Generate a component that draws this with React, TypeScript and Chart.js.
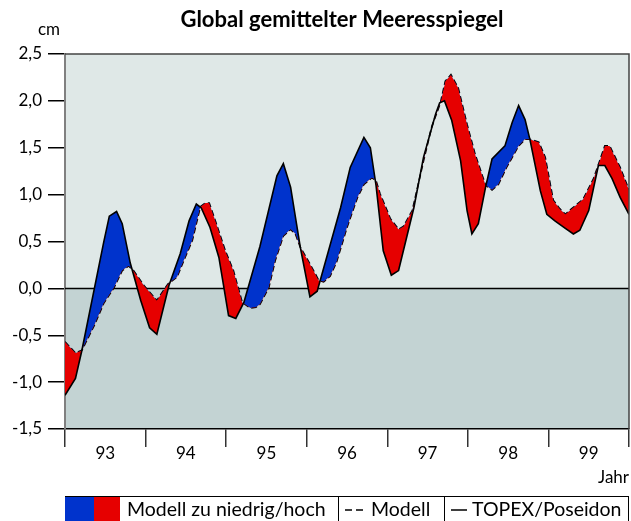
import { useEffect, useRef } from 'react';
import { Chart, registerables } from 'chart.js';

Chart.register(...registerables);

// ---- data ----
const topexYear = [1993.00, 1993.13, 1993.21, 1993.48, 1993.55, 1993.64, 1993.71, 1993.81, 1993.94, 1994.05,
  1994.14, 1994.29, 1994.43, 1994.54, 1994.63, 1994.69, 1994.80, 1994.91, 1995.03, 1995.12,
  1995.22, 1995.42, 1995.63, 1995.71, 1995.80, 1995.92, 1996.04, 1996.13, 1996.42, 1996.54,
  1996.71, 1996.79, 1996.86, 1996.95, 1997.05, 1997.14, 1997.33, 1997.45, 1997.60, 1997.65,
  1997.71, 1997.80, 1997.91, 1997.99, 1998.05, 1998.13, 1998.22, 1998.30, 1998.46, 1998.55,
  1998.63, 1998.71, 1998.77, 1998.90, 1998.98, 1999.08, 1999.21, 1999.31, 1999.39, 1999.50,
  1999.62, 1999.70, 1999.79, 1999.89, 2000.00];
const topexCm = [-1.14, -0.96, -0.66, 0.49, 0.77, 0.82, 0.69, 0.27, -0.13, -0.42,
  -0.49, 0.03, 0.37, 0.72, 0.90, 0.86, 0.65, 0.33, -0.29, -0.32,
  -0.15, 0.45, 1.20, 1.33, 1.08, 0.44, -0.09, -0.03, 0.86, 1.29,
  1.61, 1.50, 1.10, 0.40, 0.14, 0.19, 0.86, 1.40, 1.86, 1.98,
  2.00, 1.79, 1.36, 0.83, 0.58, 0.69, 1.08, 1.38, 1.52, 1.77,
  1.95, 1.80, 1.59, 1.04, 0.79, 0.72, 0.64, 0.58, 0.62, 0.83,
  1.31, 1.31, 1.17, 0.97, 0.79];

const modelYear = [1993.00, 1993.13, 1993.21, 1993.36, 1993.48, 1993.61, 1993.71, 1993.79, 1993.85, 1993.98,
  1994.14, 1994.28, 1994.39, 1994.49, 1994.58, 1994.68, 1994.74, 1994.79, 1994.87, 1994.99,
  1995.09, 1995.20, 1995.30, 1995.37, 1995.42, 1995.53, 1995.61, 1995.71, 1995.80, 1995.86,
  1995.92, 1996.04, 1996.15, 1996.21, 1996.29, 1996.37, 1996.50, 1996.63, 1996.71, 1996.81,
  1996.86, 1996.91, 1997.04, 1997.14, 1997.20, 1997.31, 1997.45, 1997.55, 1997.66, 1997.72,
  1997.79, 1997.88, 1997.99, 1998.09, 1998.22, 1998.30, 1998.38, 1998.48, 1998.63, 1998.71,
  1998.77, 1998.88, 1998.96, 1999.06, 1999.14, 1999.21, 1999.29, 1999.43, 1999.56, 1999.70,
  1999.76, 1999.89, 2000.00];
const modelCm = [-0.57, -0.69, -0.66, -0.40, -0.16, 0.01, 0.19, 0.24, 0.19, 0.03,
  -0.13, 0.05, 0.12, 0.33, 0.51, 0.87, 0.91, 0.91, 0.71, 0.40,
  0.19, -0.15, -0.21, -0.20, -0.17, 0.01, 0.30, 0.56, 0.63, 0.58,
  0.44, 0.26, 0.085, 0.07, 0.13, 0.28, 0.65, 0.97, 1.11, 1.18,
  1.15, 1.01, 0.74, 0.63, 0.66, 0.83, 1.36, 1.72, 1.98, 2.21,
  2.28, 2.14, 1.75, 1.43, 1.10, 1.05, 1.11, 1.29, 1.52, 1.59,
  1.59, 1.56, 1.40, 0.94, 0.85, 0.79, 0.85, 0.95, 1.17, 1.52,
  1.52, 1.29, 1.05];

const yearTicks = [1993, 1994, 1995, 1996, 1997, 1998, 1999, 2000];
const yearLabels = ['93', '94', '95', '96', '97', '98', '99'];

const TITLE = 'Global gemittelter Meeresspiegel';
const Y_UNIT = 'cm';
const X_UNIT = 'Jahr';
const LEGEND_FILL = 'Modell zu niedrig/hoch';
const LEGEND_MODEL = 'Modell';
const LEGEND_TOPEX = 'TOPEX/Poseidon';

const BLUE = '#0033cc';
const RED = '#e60000';
const UPPER_BG = '#dfe8e7';
const LOWER_BG = '#c3d3d3';
const FONT = 'Lato, "Open Sans", sans-serif';

const decoPlugin = {
  id: 'deco',
  beforeDraw(chart: any) {
    const { ctx, chartArea: a, scales } = chart;
    const y0 = scales.y.getPixelForValue(0);
    ctx.save();
    ctx.fillStyle = UPPER_BG;
    ctx.fillRect(a.left, a.top, a.right - a.left, y0 - a.top);
    ctx.fillStyle = LOWER_BG;
    ctx.fillRect(a.left, y0, a.right - a.left, a.bottom - y0);
    ctx.restore();
  },
  beforeDatasetsDraw(chart: any) {
    const { ctx, chartArea: a, scales } = chart;
    const y0 = Math.round(scales.y.getPixelForValue(0)) + 0.5;
    ctx.save();
    ctx.strokeStyle = '#000';
    ctx.lineWidth = 1.5;
    ctx.beginPath();
    ctx.moveTo(a.left, y0);
    ctx.lineTo(a.right, y0);
    ctx.stroke();
    ctx.restore();
  },
  afterDraw(chart: any) {
    const { ctx, chartArea: a } = chart;
    ctx.save();
    // plot frame top/right
    ctx.strokeStyle = '#444';
    ctx.lineWidth = 1.5;
    ctx.beginPath();
    ctx.moveTo(a.left, a.top);
    ctx.lineTo(a.right, a.top);
    ctx.lineTo(a.right, a.bottom);
    ctx.stroke();

    // title
    ctx.fillStyle = '#000';
    ctx.textBaseline = 'middle';
    ctx.textAlign = 'center';
    ctx.font = `bold 22px ${FONT}`;
    ctx.fillText(TITLE, 342, 20);

    ctx.font = `17px ${FONT}`;
    ctx.fillText(Y_UNIT, 49, 30);
    ctx.textAlign = 'right';
    ctx.fillText(X_UNIT, a.right, 478);

    // legend
    const top = 496;
    const bot = 521;
    ctx.fillStyle = BLUE;
    ctx.fillRect(a.left, top, 29, bot - top);
    ctx.fillStyle = RED;
    ctx.fillRect(a.left + 29, top, 26, bot - top);
    ctx.strokeStyle = '#000';
    ctx.lineWidth = 1;
    ctx.beginPath();
    ctx.moveTo(a.left, top + 0.5);
    ctx.lineTo(a.right, top + 0.5);
    ctx.moveTo(338.5, top);
    ctx.lineTo(338.5, bot);
    ctx.moveTo(444.5, top);
    ctx.lineTo(444.5, bot);
    ctx.moveTo(a.right - 0.5, top);
    ctx.lineTo(a.right - 0.5, bot);
    ctx.stroke();

    ctx.fillStyle = '#000';
    ctx.textAlign = 'left';
    ctx.textBaseline = 'middle';
    ctx.font = `19.5px ${FONT}`;
    const ty = 510;
    ctx.fillText(LEGEND_FILL, 127, ty);
    ctx.fillText(LEGEND_MODEL, 371, ty);
    ctx.fillText(LEGEND_TOPEX, 472, ty);
    ctx.lineWidth = 1.5;
    ctx.beginPath();
    ctx.moveTo(345, ty);
    ctx.lineTo(352, ty);
    ctx.moveTo(356, ty);
    ctx.lineTo(363, ty);
    ctx.moveTo(451, ty);
    ctx.lineTo(467, ty);
    ctx.stroke();
    ctx.restore();
  },
};

export default function App() {
  const ref = useRef<HTMLCanvasElement | null>(null);
  useEffect(() => {
    if (!ref.current) return;
    const topexPts = topexYear.map((x, i) => ({ x, y: topexCm[i] }));
    const modelPts = modelYear.map((x, i) => ({ x, y: modelCm[i] }));
    const chart = new Chart(ref.current, {
      type: 'line',
      data: {
        datasets: [
          {
            label: LEGEND_TOPEX,
            data: topexPts,
            borderColor: '#000',
            borderWidth: 1.6,
            pointRadius: 0,
            tension: 0,
            fill: { target: 1, above: BLUE, below: RED },
          },
          {
            label: LEGEND_MODEL,
            data: modelPts,
            borderColor: '#000',
            borderWidth: 1.6,
            borderDash: [6, 3],
            pointRadius: 0,
            tension: 0,
            fill: false,
          },
        ],
      },
      options: {
        animation: false,
        responsive: false,
        maintainAspectRatio: false,
        devicePixelRatio: 1,
        layout: { padding: { left: 0, right: 2, top: 54, bottom: 48 } },
        plugins: {
          legend: { display: false },
          tooltip: { enabled: false },
          title: { display: false },
        },
        scales: {
          x: {
            type: 'linear',
            min: 1993,
            max: 2000,
            afterBuildTicks: (s: any) => {
              const t: any[] = [];
              yearTicks.forEach((v, i) => {
                t.push({ value: v });
                if (i < yearLabels.length) t.push({ value: v + 0.5 });
              });
              s.ticks = t;
            },
            afterFit: (s: any) => {
              s.height = 44;
            },
            grid: {
              drawOnChartArea: false,
              drawTicks: true,
              tickLength: 18,
              lineWidth: 1.5,
              color: (c: any) => (c.tick && c.tick.value % 1 !== 0 ? 'rgba(0,0,0,0)' : '#333'),
            },
            border: { color: '#000', width: 1.5 },
            ticks: {
              autoSkip: false,
              maxRotation: 0,
              padding: -4,
              color: '#000',
              font: { family: FONT, size: 17 },
              callback: (v: any) => {
                const n = Number(v);
                if (n % 1 === 0) return '';
                const idx = Math.floor(n) - 1993;
                return yearLabels[idx] ?? '';
              },
            },
          },
          y: {
            min: -1.5,
            max: 2.5,
            afterFit: (s: any) => {
              s.width = 65;
            },
            grid: {
              drawOnChartArea: false,
              drawTicks: true,
              tickLength: 17,
              lineWidth: 1.5,
              color: '#000',
            },
            border: { color: '#808080', width: 2 },
            ticks: {
              stepSize: 0.5,
              padding: 6,
              color: '#000',
              font: { family: FONT, size: 17 },
              callback: (v: any) => Number(v).toFixed(1).replace('.', ','),
            },
          },
        },
      },
      plugins: [decoPlugin],
    });
    return () => chart.destroy();
  }, []);

  return (
    <div style={{ position: 'fixed', left: 0, top: 0, width: 631, height: 521, background: '#fff' }}>
      <canvas ref={ref} width={631} height={521} style={{ width: 631, height: 521, display: 'block' }} />
    </div>
  );
}
